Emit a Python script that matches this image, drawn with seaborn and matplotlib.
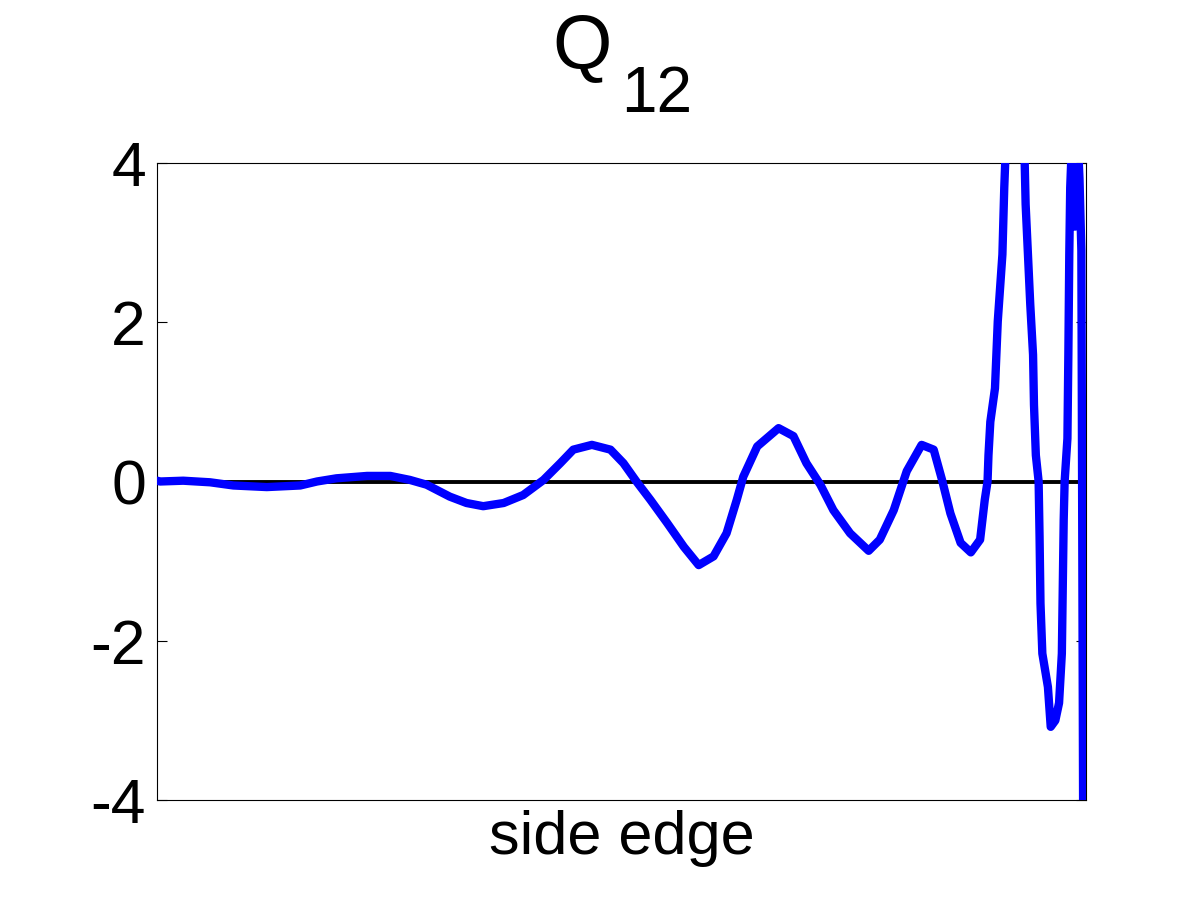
import matplotlib
matplotlib.use('Agg')
import matplotlib.pyplot as plt
import seaborn as sns
import pandas as pd
import numpy as np

# Q12 along the side edge (position normalised 0..1)
edge_pos = [0.000, 0.003, 0.028, 0.057, 0.082, 0.118, 0.154, 0.172, 0.193, 0.226,
            0.251, 0.272, 0.290, 0.315, 0.333, 0.351, 0.373, 0.394, 0.416, 0.434,
            0.448, 0.468, 0.488, 0.502, 0.516, 0.531, 0.549, 0.567, 0.583, 0.599,
            0.613, 0.624, 0.631, 0.646, 0.669, 0.685, 0.699, 0.714, 0.728, 0.746,
            0.766, 0.778, 0.793, 0.807, 0.823, 0.836, 0.845, 0.854, 0.865, 0.876,
            0.886, 0.891, 0.894, 0.895, 0.897, 0.902, 0.905, 0.910, 0.912, 0.913,
            0.918, 0.924, 0.930, 0.934, 0.935, 0.940, 0.943, 0.944, 0.946, 0.949,
            0.950, 0.951, 0.953, 0.959, 0.962, 0.967, 0.971, 0.974, 0.975, 0.976,
            0.977, 0.980, 0.981, 0.982, 0.983, 0.984, 0.986, 0.988, 0.990, 0.993,
            0.995, 0.997]
q12 = [0.01, 0.00, 0.01, -0.01, -0.05, -0.07, -0.05, 0.00, 0.04, 0.07,
       0.07, 0.02, -0.04, -0.19, -0.27, -0.31, -0.27, -0.17, 0.02, 0.23,
       0.40, 0.46, 0.40, 0.23, 0.00, -0.23, -0.52, -0.82, -1.05, -0.94,
       -0.65, -0.23, 0.06, 0.44, 0.67, 0.57, 0.23, -0.04, -0.36, -0.65,
       -0.87, -0.73, -0.36, 0.13, 0.46, 0.40, 0.02, -0.40, -0.77, -0.89,
       -0.73, -0.23, 0.00, 0.33, 0.75, 1.17, 2.01, 2.85, 3.69, 4.00,
       5.00, 5.50, 5.00, 4.00, 3.48, 2.22, 1.59, 0.96, 0.33, 0.00,
       -0.69, -1.53, -2.16, -2.58, -3.08, -3.00, -2.78, -2.16, -1.32, -0.48,
       0.00, 0.54, 1.59, 2.85, 3.69, 4.00, 4.60, 3.20, 4.60, 3.80,
       2.90, -4.50]

y_ticks = [-4, -2, 0, 2, 4]

df = pd.DataFrame({'pos': edge_pos, 'q12': q12})

sns.set_theme(style='white')
plt.rcParams['font.family'] = ['Liberation Sans', 'DejaVu Sans']

fig = plt.figure(figsize=(12, 9), dpi=100)
ax = fig.add_axes([0.131, 0.111, 0.774, 0.708])

ax.axhline(0, color='black', lw=2.8, zorder=3)
sns.lineplot(data=df, x='pos', y='q12', color='blue', lw=6, ax=ax, zorder=4)

ax.set_xlim(0, 1)
ax.set_ylim(-4, 4)
ax.set_xticks([])
ax.set_yticks(y_ticks)
ax.set_yticklabels([str(t) for t in y_ticks])
ax.tick_params(axis='y', direction='in', length=7, width=0.8, labelsize=45,
               pad=8, left=True, right=True, colors='black')
for s in ax.spines.values():
    s.set_color('black')
    s.set_linewidth(0.8)

ax.set_ylabel('')
ax.set_xlabel('side edge', fontsize=44, labelpad=7, color='black')

# title Q with subscript 12
fig.text(0.510, 0.925, 'Q', fontsize=55, ha='right', va='baseline', color='black')
fig.text(0.518, 0.8756, '12', fontsize=46, ha='left', va='baseline', color='black')

fig.savefig('out.png', dpi=100, facecolor='white')
